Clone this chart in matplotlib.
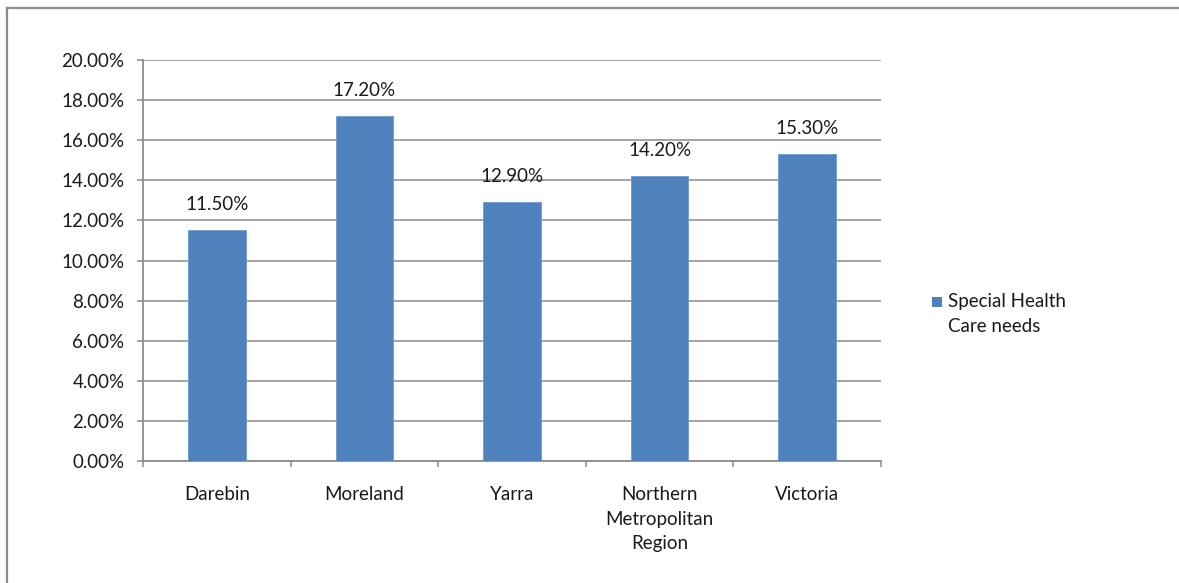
import matplotlib
matplotlib.use("Agg")
import matplotlib.pyplot as plt
from matplotlib.patches import Rectangle
from matplotlib.lines import Line2D
from matplotlib.ticker import FixedLocator

categories = ["Darebin", "Moreland", "Yarra", "Northern\nMetropolitan\nRegion", "Victoria"]
values = [11.5, 17.2, 12.9, 14.2, 15.3]
value_labels = ["11.50%", "17.20%", "12.90%", "14.20%", "15.30%"]
yticks = [0, 2, 4, 6, 8, 10, 12, 14, 16, 18, 20]
ytick_labels = ["0.00%", "2.00%", "4.00%", "6.00%", "8.00%", "10.00%", "12.00%",
                "14.00%", "16.00%", "18.00%", "20.00%"]
series_name = "Special Health\nCare needs"

plt.rcParams['font.family'] = ['Lato', 'DejaVu Sans']
FS = 13.5
W, H = 1179, 583
fig = plt.figure(figsize=(W / 100, H / 100), dpi=100)
GRAY = "#8c8c8c"
TXT = "#1a1a1a"

# outer chart border (only left and top edges visible in the reference)
fig.lines.append(Line2D([6.5 / W, 6.5 / W], [0, (H - 8) / H], transform=fig.transFigure,
                        color=GRAY, linewidth=1.6))
fig.lines.append(Line2D([6.5 / W, 1], [(H - 8) / H, (H - 8) / H], transform=fig.transFigure,
                        color=GRAY, linewidth=1.6))

ax = fig.add_axes([143 / W, (H - 461) / H, 738 / W, 401 / H])
bar_color = "#4F81BD"
x = list(range(len(categories)))
ax.bar(x, values, width=0.39, color=bar_color, edgecolor="#6f9bd0", linewidth=0.6, zorder=3)
for xi, v, lab in zip(x, values, value_labels):
    ax.text(xi, v + 0.85, lab, ha="center", va="bottom", fontsize=FS, color=TXT)

ax.set_xlim(-0.5, len(categories) - 0.5)
ax.set_ylim(0, 20)
ax.set_yticks(yticks)
ax.set_yticklabels(ytick_labels, fontsize=FS, color=TXT)
ax.yaxis.grid(True, color=GRAY, linewidth=1.1, zorder=0)
ax.set_axisbelow(True)

ax.set_xticks(x)
ax.set_xticklabels(categories, fontsize=FS, color=TXT, linespacing=1.55, va="top")
ax.tick_params(axis="x", which="major", length=0, pad=18)
ax.xaxis.set_minor_locator(FixedLocator([i - 0.5 for i in range(len(categories) + 1)]))
ax.tick_params(axis="x", which="minor", length=4, width=1.1, color=GRAY, direction="out")
ax.tick_params(axis="y", length=4.3, width=1.1, color=GRAY, direction="out", pad=9)

for s in ["top", "right"]:
    ax.spines[s].set_visible(False)
for s in ["left", "bottom"]:
    ax.spines[s].set_color(GRAY)
    ax.spines[s].set_linewidth(1.3)

# legend: square marker aligned with the first line of the label
fig.patches.append(Rectangle((932 / W, (H - 307) / H), 10 / W, 10 / H, transform=fig.transFigure,
                             facecolor=bar_color, edgecolor="none"))
fig.text(948 / W, (H - 302) / H, series_name.split("\n")[0], fontsize=FS, color=TXT,
         ha="left", va="center")
fig.text(948 / W, (H - 327) / H, series_name.split("\n")[1], fontsize=FS, color=TXT,
         ha="left", va="center")

fig.savefig("out.png", dpi=100, facecolor="white")
